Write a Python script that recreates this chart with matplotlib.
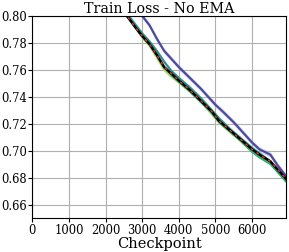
import matplotlib
matplotlib.use("Agg")
import matplotlib.pyplot as plt
import numpy as np

plt.rcParams['font.family'] = ['DejaVu Serif']

checkpoints_black = [2500, 2800, 3000, 3200, 3400, 3600, 3800, 4000, 4300, 4600, 4900, 5100, 5400, 5700, 6000, 6200, 6500, 6700, 6930]
loss_black = [0.803, 0.792, 0.785, 0.779, 0.771, 0.762, 0.757, 0.752, 0.745, 0.737, 0.729, 0.722, 0.715, 0.708, 0.701, 0.697, 0.692, 0.686, 0.679]

checkpoints_navy = [2900, 3000, 3200, 3400, 3600, 3800, 4000, 4300, 4600, 4800, 5000, 5200, 5500, 5800, 6000, 6200, 6500, 6700, 6930]
loss_navy = [0.803, 0.800, 0.793, 0.783, 0.774, 0.768, 0.762, 0.754, 0.746, 0.740, 0.734, 0.729, 0.721, 0.712, 0.706, 0.701, 0.697, 0.689, 0.681]

loss_teal = [0.805, 0.794, 0.787, 0.781, 0.774, 0.766, 0.759, 0.754, 0.747, 0.739, 0.730, 0.724, 0.716, 0.709, 0.702, 0.698, 0.692, 0.685, 0.679]
loss_green = [0.803, 0.792, 0.785, 0.779, 0.771, 0.762, 0.756, 0.751, 0.744, 0.736, 0.728, 0.721, 0.714, 0.707, 0.699, 0.695, 0.690, 0.684, 0.677]
loss_lightgreen = [0.803, 0.792, 0.784, 0.778, 0.769, 0.760, 0.755, 0.751, 0.744, 0.737, 0.727, 0.721, 0.714, 0.707, 0.700, 0.696, 0.691, 0.685, 0.679]

band_navy = 0.002
band_other = 0.0015

fig = plt.figure(figsize=(2.89, 2.52), dpi=100)
ax = fig.add_axes([0.112, 0.135, 0.878, 0.802])

xb = np.array(checkpoints_black)
xn = np.array(checkpoints_navy)

ax.fill_between(xn, np.array(loss_navy) - band_navy, np.array(loss_navy) + band_navy,
                color='#9a9ad0', alpha=0.35, lw=0)
ax.fill_between(xb, np.array(loss_lightgreen) - band_other, np.array(loss_lightgreen) + band_other,
                color='#b0e080', alpha=0.5, lw=0)
ax.fill_between(xb, np.array(loss_teal) - band_other, np.array(loss_teal) + band_other,
                color='#80c0c0', alpha=0.35, lw=0)

ax.plot(xb, loss_lightgreen, color='#a6d96a', lw=1.5)
ax.plot(xb, loss_green, color='#2cb56e', lw=1.5)
ax.plot(xb, loss_teal, color='#2a8c8c', lw=1.5)
ax.plot(xn, loss_navy, color='#4a4a9e', lw=1.6)
ax.plot(xb, loss_black, color='black', lw=1.8)
ax.plot(xb, loss_black, color='#e8352a', lw=1.0, ls=(0, (2, 3)))

ax.set_xlim(0, 6930)
ax.set_ylim(0.65, 0.80)
ax.set_xticks([0, 1000, 2000, 3000, 4000, 5000, 6000])
ax.set_yticks([0.66, 0.68, 0.70, 0.72, 0.74, 0.76, 0.78, 0.80])
ax.grid(True, color='#b0b0b0', lw=0.8)
ax.set_axisbelow(True)
ax.tick_params(labelsize=8.3, length=3, pad=1)
ax.set_title('Train Loss - No EMA', fontsize=10.3, pad=1)
ax.set_xlabel('Checkpoint', fontsize=10.5, labelpad=0)

fig.savefig('out.png', dpi=100)
